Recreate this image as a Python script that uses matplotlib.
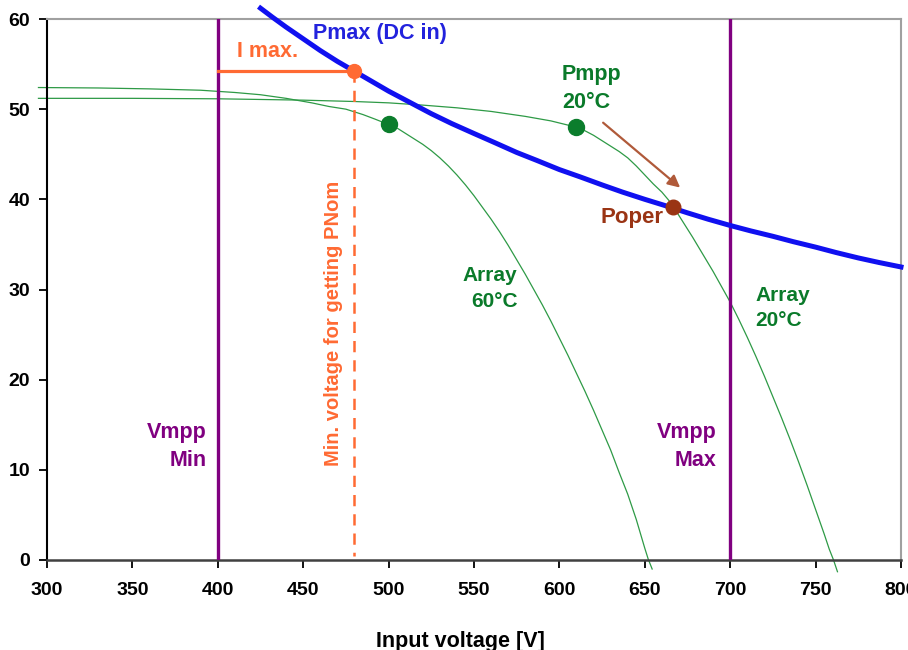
import matplotlib
matplotlib.use("Agg")
import matplotlib.pyplot as plt

plt.rcParams["font.family"] = ["Liberation Sans", "DejaVu Sans"]
plt.rcParams["font.weight"] = "bold"

# ---- data ---------------------------------------------------------
# Pmax (DC in) limit curve, V [V] / I [A]
pmax_v = [425, 432, 440, 450, 460, 470, 480, 490, 500, 512, 525, 537, 550, 562, 575, 587,
          600, 612, 625, 637, 650, 662, 675, 687, 700, 712, 725, 737, 750, 762, 775, 787, 800]
pmax_i = [61.2, 60.2, 59.1, 57.8, 56.5, 55.3, 54.2, 53.1, 52.0, 50.8, 49.5, 48.4, 47.3, 46.3,
          45.2, 44.3, 43.3, 42.5, 41.6, 40.8, 40.0, 39.3, 38.5, 37.8, 37.1, 36.5, 35.9, 35.3,
          34.7, 34.1, 33.5, 33.0, 32.5]

# I/V curve of the array at 60 degC
a60_v = [295, 330, 360, 390, 410, 425, 440, 455, 465, 475, 485, 492, 500, 505, 510, 515, 520,
         525, 530, 535, 540, 545, 550, 555, 560, 565, 570, 575, 580, 585, 590, 595, 600, 605,
         610, 615, 620, 625, 630, 635, 640, 645, 650, 652, 654.3]
a60_i = [52.4, 52.35, 52.25, 52.1, 51.85, 51.6, 51.2, 50.7, 50.3, 50.0, 49.4, 48.9, 48.3,
         47.9, 47.3, 46.7, 46.1, 45.4, 44.6, 43.7, 42.7, 41.6, 40.4, 39.1, 37.8, 36.4, 34.9,
         33.3, 31.7, 30.0, 28.3, 26.5, 24.6, 22.7, 20.7, 18.7, 16.6, 14.4, 12.2, 9.7, 7.3,
         4.5, 1.3, 0.1, -1.0]

# I/V curve of the array at 20 degC
a20_v = [295, 350, 400, 450, 480, 500, 520, 540, 560, 580, 595, 610, 615, 620, 625, 630, 635,
         640, 645, 650, 655, 660, 664, 667, 672, 678, 684, 690, 695, 700, 705, 710, 715, 720,
         725, 730, 735, 740, 745, 750, 755, 758, 760.5, 762.8]
a20_i = [51.2, 51.2, 51.15, 51.0, 50.85, 50.7, 50.45, 50.15, 49.75, 49.2, 48.7, 48.0, 47.6,
         47.1, 46.5, 45.9, 45.3, 44.6, 43.7, 42.7, 41.7, 40.8, 39.9, 39.1, 37.6, 35.8, 33.9,
         32.0, 30.3, 28.6, 26.7, 24.7, 22.6, 20.4, 18.1, 15.8, 13.4, 10.9, 8.3, 5.6, 2.9,
         1.2, 0.0, -1.3]

mpp_v = [500, 610]        # Pmpp markers (60 degC, 20 degC)
mpp_i = [48.3, 48.0]
poper = (666.5, 39.1)
imax = 54.2
v_min_pnom = 480
vmpp_min, vmpp_max = 400, 700

xticks = list(range(300, 801, 50))
yticks = list(range(0, 61, 10))

# ---- colours -----------------------------------------------------
GREEN_LINE = "#2e9a46"
GREEN_TXT = "#0a7a2a"
BLUE = "#1010f0"
PURPLE = "#800080"
ORANGE = "#ff6a33"
BROWN = "#9a3414"

fig = plt.figure(figsize=(9.08, 6.5), dpi=100)
ax = fig.add_axes([47 / 908, 90 / 650, 854 / 908, 541 / 650])

ax.plot(a60_v, a60_i, color=GREEN_LINE, lw=0.9, clip_on=False, zorder=2)
ax.plot(a20_v, a20_i, color=GREEN_LINE, lw=0.9, clip_on=False, zorder=2)

for v in (vmpp_min, vmpp_max):
    ax.plot([v, v], [0, 60], color=PURPLE, lw=2.4, zorder=3)

ax.plot(pmax_v, pmax_i, color=BLUE, lw=3.6, clip_on=False, zorder=4)

# I max + min voltage for PNom
ax.plot([vmpp_min, v_min_pnom], [imax, imax], color=ORANGE, lw=2.3, zorder=3)
ax.plot([v_min_pnom, v_min_pnom], [imax, 0.4], color=ORANGE, lw=1.8,
        linestyle=(0, (4.5, 3.2)), zorder=3)
ax.plot([v_min_pnom], [imax], "o", color=ORANGE, ms=10, zorder=5)

ax.plot(mpp_v, mpp_i, "o", color="#0b7d2c", ms=11.5, zorder=5)
ax.plot([poper[0]], [poper[1]], "o", color=BROWN, ms=10.5, zorder=5)

ax.annotate("", xy=(670.7, 41.3), xytext=(625.6, 48.5),
            arrowprops=dict(arrowstyle="-|>", color="#b05a3a", lw=1.6,
                            mutation_scale=18, shrinkA=0, shrinkB=0))

# labels
ax.text(455.9, 58.4, "Pmax (DC in)", color="#2222dd", fontsize=15.5, va="center")
ax.text(411.5, 56.4, "I max.", color=ORANGE, fontsize=15.5, va="center")
ax.text(601.5, 52.3, "Pmpp\n20°C", color=GREEN_TXT, fontsize=15.5, va="center",
        linespacing=1.45)
ax.text(661, 38.0, "Poper", color=BROWN, fontsize=16, va="center", ha="right")
ax.text(575.5, 30.15, "Array\n60°C", color=GREEN_TXT, fontsize=15, va="center",
        ha="right", multialignment="right", linespacing=1.45)
ax.text(714.7, 27.9, "Array\n20°C", color=GREEN_TXT, fontsize=15, va="center",
        linespacing=1.4)
ax.text(393.7, 12.55, "Vmpp\nMin", color=PURPLE, fontsize=15.5, va="center",
        ha="right", multialignment="right", linespacing=1.45)
ax.text(692, 12.55, "Vmpp\nMax", color=PURPLE, fontsize=15.5, va="center",
        ha="right", multialignment="right", linespacing=1.45)
ax.text(467.5, 26.2, "Min. voltage for getting PNom", color=ORANGE, fontsize=14.5,
        rotation=90, ha="center", va="center")

ax.set_xlim(300, 800)
ax.set_ylim(0, 60)
ax.set_xticks(xticks)
ax.set_yticks(yticks)
ax.tick_params(axis="both", direction="out", length=6, width=1.3, labelsize=14)
ax.tick_params(axis="x", pad=10)
ax.tick_params(axis="y", pad=6)

ax.spines["left"].set_color("black")
ax.spines["left"].set_linewidth(1.5)
ax.spines["bottom"].set_color("#404040")
ax.spines["bottom"].set_linewidth(1.8)
for s in ("top", "right"):
    ax.spines[s].set_color("#a0a0a0")
    ax.spines[s].set_linewidth(1.5)

# the reference is cropped: the axis title and the last tick label run off the edge
fig.text(460 / 908, 8 / 650, "Input voltage [V]", fontsize=15.5, ha="center",
         va="center")

fig.savefig("out.png", dpi=100, facecolor="white")
